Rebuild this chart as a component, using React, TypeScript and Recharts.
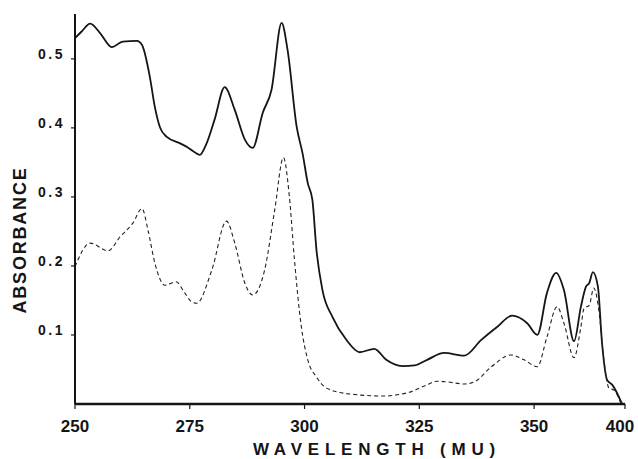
import React from "react";
import { LineChart, Line, XAxis, YAxis, Label } from "recharts";

// Solid curve (wavelength position on chart scale, absorbance)
const solidX = [250, 251.5, 253.3, 255.5, 258, 260.4, 263.5, 264.6, 266.3, 267.4, 268.5, 270, 272.8, 274.5, 276, 277.2, 278.5, 280.4, 282.6, 284.8, 287, 288.7, 290.9, 292.8, 295, 296.3, 298.3, 299.6, 300.7, 301.7, 302.6, 303.9, 306.1, 309.1, 312, 315.2, 317.8, 321.3, 324, 326.7, 330.4, 334.8, 338.5, 342, 345.2, 348.5, 350.7, 352.8, 354.8, 356.5, 358.7, 360.2, 361.3, 362, 362.8, 363.9, 364.8, 365.9, 367, 369.1];
const solidY = [0.53, 0.54, 0.551, 0.537, 0.517, 0.525, 0.526, 0.52, 0.474, 0.43, 0.401, 0.387, 0.378, 0.372, 0.365, 0.361, 0.375, 0.412, 0.459, 0.426, 0.383, 0.371, 0.422, 0.455, 0.552, 0.513, 0.401, 0.362, 0.32, 0.296, 0.223, 0.165, 0.126, 0.093, 0.075, 0.08, 0.064, 0.055, 0.056, 0.064, 0.074, 0.07, 0.093, 0.112, 0.128, 0.117, 0.1, 0.161, 0.19, 0.165, 0.091, 0.141, 0.17, 0.175, 0.191, 0.17, 0.088, 0.035, 0.028, 0.001];

// Dashed curve
const dashedX = [250, 253.3, 257.2, 259.8, 262.6, 264.6, 265.9, 267.4, 269.6, 272, 273.9, 275.4, 276.5, 279.8, 283, 284.8, 287, 288.7, 291.3, 293.5, 295.4, 296.7, 297.8, 299.3, 300.7, 302.6, 304.8, 309.8, 317, 322.8, 326.1, 328.9, 331.1, 334.8, 337, 340.7, 345, 347.8, 350.7, 352.8, 355, 356.5, 358.7, 360.2, 360.9, 362, 363, 364.1, 365.2, 366.3, 367.4, 368.9];
const dashedY = [0.199, 0.233, 0.222, 0.242, 0.262, 0.283, 0.252, 0.204, 0.172, 0.177, 0.161, 0.148, 0.146, 0.194, 0.265, 0.233, 0.175, 0.158, 0.194, 0.281, 0.357, 0.3, 0.209, 0.112, 0.064, 0.039, 0.023, 0.0145, 0.0116, 0.017, 0.026, 0.033, 0.032, 0.029, 0.032, 0.054, 0.071, 0.064, 0.054, 0.097, 0.141, 0.117, 0.067, 0.112, 0.139, 0.143, 0.168, 0.136, 0.064, 0.023, 0.02, 0.001];

const xTickPos = [250, 275, 300, 325, 350, 369.8];
const xTickLabels = ["250", "275", "300", "325", "350", "400"];
const yTicks = [0.1, 0.2, 0.3, 0.4, 0.5];

const solidData = solidX.map((x, i) => ({ x, y: solidY[i] }));
const dashedData = dashedX.map((x, i) => ({ x, y: dashedY[i] }));

const FONT = "'Liberation Sans', Arial, sans-serif";
const INK = "#151515";

const XTick = (props: any) => {
  const { x, y, payload } = props;
  const idx = xTickPos.indexOf(payload.value);
  return (
    <text x={x} y={y + 21} textAnchor="middle" fontFamily={FONT} fontWeight="bold" fontSize={17} fill={INK}>
      {idx >= 0 ? xTickLabels[idx] : String(payload.value)}
    </text>
  );
};

const YTick = (props: any) => {
  const { x, y, payload } = props;
  return (
    <text x={x - 4} y={y} textAnchor="end" fontFamily={FONT} fontWeight="bold" fontSize={14} letterSpacing={2.5} fill={INK}>
      {payload.value.toFixed(1)}
    </text>
  );
};

const YLabel = (props: any) => {
  const vb = props.viewBox || { x: 0, y: 0, width: 0, height: 0 };
  const cx = 26;
  const cy = vb.y + vb.height / 2 + 31;
  return (
    <text x={cx} y={cy} transform={`rotate(-90 ${cx} ${cy})`} textAnchor="middle" fontFamily={FONT} fontWeight="bold" fontSize={18} letterSpacing={1.8} fill={INK}>
      ABSORBANCE
    </text>
  );
};

const XLabel = (props: any) => {
  const vb = props.viewBox || { x: 0, y: 0, width: 0, height: 0 };
  const cx = vb.x + vb.width / 2 + 27;
  const cy = vb.y + 51;
  return (
    <text x={cx} y={cy} textAnchor="middle" fontFamily={FONT} fontWeight="bold" fontSize={17} letterSpacing={5.8} fill={INK}>
      WAVELENGTH (MU)
    </text>
  );
};

export default function App() {
  return (
    <div style={{ position: "absolute", left: 0, top: 0, width: 638, height: 459, background: "#fff" }}>
      <LineChart width={638} height={459} margin={{ top: 14, right: 13, bottom: 0, left: 0 }}>
        <XAxis
          dataKey="x"
          type="number"
          domain={[250, 369.8]}
          ticks={xTickPos}
          tick={<XTick />}
          tickSize={5}
          height={55}
          axisLine={{ stroke: INK, strokeWidth: 2.5 }}
          tickLine={{ stroke: INK, strokeWidth: 1.2 }}
          allowDataOverflow
        >
          <Label content={<XLabel />} />
        </XAxis>
        <YAxis
          type="number"
          domain={[0, 0.565]}
          ticks={yTicks}
          tick={<YTick />}
          tickSize={4}
          width={75}
          axisLine={{ stroke: INK, strokeWidth: 2 }}
          tickLine={{ stroke: INK, strokeWidth: 1.2 }}
          allowDataOverflow
        >
          <Label content={<YLabel />} />
        </YAxis>
        <Line data={solidData} dataKey="y" type="monotone" stroke={INK} strokeWidth={1.8} dot={false} isAnimationActive={false} />
        <Line data={dashedData} dataKey="y" type="monotone" stroke="#222" strokeWidth={1.1} strokeDasharray="4 3" dot={false} isAnimationActive={false} />
      </LineChart>
    </div>
  );
}
